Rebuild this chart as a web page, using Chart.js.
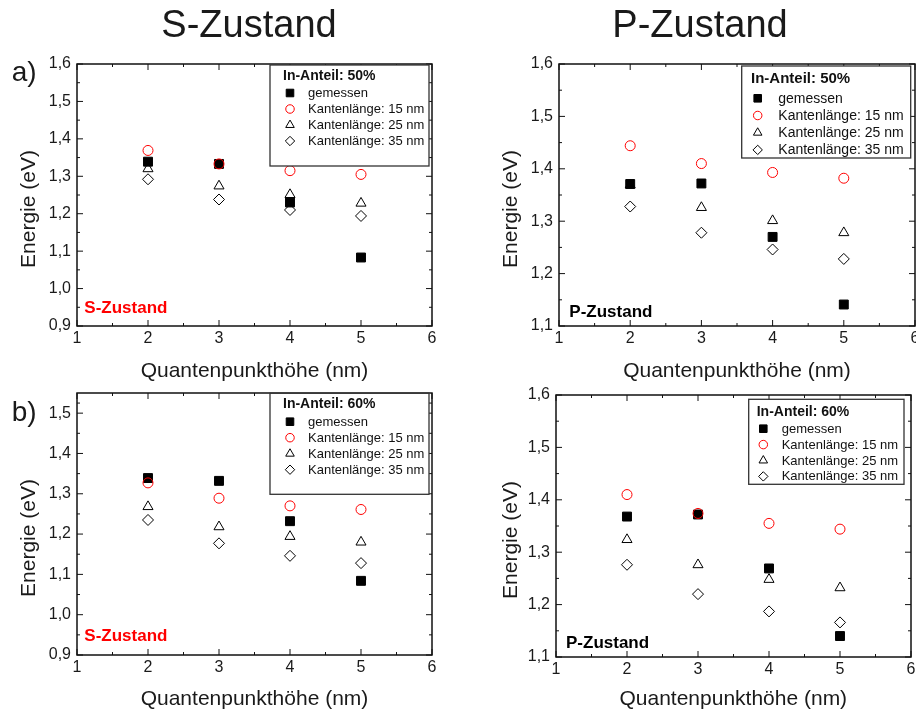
<!DOCTYPE html>
<html>
<head>
<meta charset="utf-8">
<script src="https://cdn.jsdelivr.net/npm/chart.js"></script>
<style>
html, body { margin: 0; padding: 0; background: #fff; overflow: hidden; width: 916px; height: 710px; }
body { position: relative; font-family: "Liberation Sans", Arial, sans-serif; color: #1a1a1a; }
canvas { position: absolute; }
.t { position: absolute; line-height: 1; white-space: nowrap; }
.yt { position: absolute; line-height: 1; white-space: nowrap; font-size: 21px; transform: translate(-50%, -50%) rotate(-90deg); }
.xt { position: absolute; line-height: 1; white-space: nowrap; font-size: 21px; transform: translateX(-50%); }
</style>
</head>
<body>
<canvas id="sa" width="460" height="345" style="left:0;top:40px"></canvas>
<canvas id="pa" width="490" height="345" style="left:460px;top:40px"></canvas>
<canvas id="sb" width="460" height="345" style="left:0;top:370px"></canvas>
<canvas id="pb" width="490" height="345" style="left:460px;top:370px"></canvas>

<div class="t" style="font-size:38px;left:249px;top:5.1px;transform:translateX(-50%)">S-Zustand</div>
<div class="t" style="font-size:38px;left:700px;top:5.1px;transform:translateX(-50%)">P-Zustand</div>
<div class="t" style="font-size:28px;left:11.7px;top:58.3px">a)</div>
<div class="t" style="font-size:28px;left:11.7px;top:398.3px">b)</div>

<div class="xt" style="left:254.5px;top:359.2px">Quantenpunkthöhe (nm)</div>
<div class="xt" style="left:737px;top:359.2px">Quantenpunkthöhe (nm)</div>
<div class="xt" style="left:254.5px;top:687.2px">Quantenpunkthöhe (nm)</div>
<div class="xt" style="left:733.3px;top:687.2px">Quantenpunkthöhe (nm)</div>

<div class="yt" style="left:26.5px;top:209px">Energie (eV)</div>
<div class="yt" style="left:509px;top:209px">Energie (eV)</div>
<div class="yt" style="left:26.5px;top:538px">Energie (eV)</div>
<div class="yt" style="left:509px;top:540px">Energie (eV)</div>

<div class="t" style="font-size:17px;font-weight:bold;color:#ff0000;left:84.3px;top:298.6px">S-Zustand</div>
<div class="t" style="font-size:17px;font-weight:bold;color:#000;left:569.3px;top:302.6px">P-Zustand</div>
<div class="t" style="font-size:17px;font-weight:bold;color:#ff0000;left:84.3px;top:626.6px">S-Zustand</div>
<div class="t" style="font-size:17px;font-weight:bold;color:#000;left:566px;top:633.6px">P-Zustand</div>

<script>
// Quantenpunkthöhe (nm)
const hoehe = [2, 3, 4, 5];
const serien = ['gemessen', 'Kantenlänge: 15 nm', 'Kantenlänge: 25 nm', 'Kantenlänge: 35 nm'];

// a) In-Anteil 50 %, S-Zustand
const s50Gemessen = [1.339, 1.333, 1.230, 1.083];
const s50K15 = [1.369, 1.333, 1.315, 1.305];
const s50K25 = [1.320, 1.274, 1.251, 1.228];
const s50K35 = [1.292, 1.238, 1.210, 1.194];

// a) In-Anteil 50 %, P-Zustand
const p50Gemessen = [1.371, 1.372, 1.270, 1.141];
const p50K15 = [1.444, 1.410, 1.393, 1.382];
const p50K25 = [1.369, 1.326, 1.301, 1.278];
const p50K35 = [1.328, 1.278, 1.246, 1.228];

// b) In-Anteil 60 %, S-Zustand
const s60Gemessen = [1.339, 1.332, 1.232, 1.084];
const s60K15 = [1.327, 1.289, 1.270, 1.261];
const s60K25 = [1.268, 1.218, 1.194, 1.180];
const s60K35 = [1.235, 1.177, 1.146, 1.128];

// b) In-Anteil 60 %, P-Zustand
const p60Gemessen = [1.368, 1.372, 1.269, 1.140];
const p60K15 = [1.410, 1.374, 1.355, 1.344];
const p60K25 = [1.324, 1.276, 1.248, 1.232];
const p60K35 = [1.276, 1.220, 1.187, 1.166];

const xBereich = [1, 6];
const schrift = '"Liberation Sans", Arial, sans-serif';

// marker styles, one per series
const stile = [
  { pointStyle: 'rect', radius: 6.3, fill: '#000', stroke: '#000' },
  { pointStyle: 'circle', radius: 5, fill: 'rgba(0,0,0,0)', stroke: '#ff0000' },
  { pointStyle: 'triangle', radius: 5.8, fill: 'rgba(0,0,0,0)', stroke: '#000' },
  { pointStyle: 'rectRot', radius: 5.5, fill: 'rgba(0,0,0,0)', stroke: '#000' }
];

function marker(ctx, st, r, x, y) {
  ctx.save();
  ctx.fillStyle = st.fill;
  ctx.strokeStyle = st.stroke;
  ctx.lineWidth = 1;
  ctx.beginPath();
  if (st.pointStyle === 'rect') {
    const s = Math.SQRT1_2 * r;
    ctx.rect(x - s, y - s, 2 * s, 2 * s);
  } else if (st.pointStyle === 'circle') {
    ctx.arc(x, y, r, 0, Math.PI * 2);
  } else if (st.pointStyle === 'triangle') {
    ctx.moveTo(x, y - r);
    ctx.lineTo(x + Math.sin(2 * Math.PI / 3) * r, y + r / 2);
    ctx.lineTo(x - Math.sin(2 * Math.PI / 3) * r, y + r / 2);
    ctx.closePath();
  } else {
    ctx.moveTo(x - r, y);
    ctx.lineTo(x, y - r);
    ctx.lineTo(x + r, y);
    ctx.lineTo(x, y + r);
    ctx.closePath();
  }
  ctx.fill();
  ctx.stroke();
  ctx.restore();
}

// frame with inward ticks on all four sides
const rahmen = {
  id: 'rahmen',
  beforeDatasetsDraw(chart) {
    const { ctx, chartArea: a, scales } = chart;
    ctx.save();
    ctx.strokeStyle = '#111';
    ctx.lineWidth = 1;
    ctx.beginPath();
    const xt = scales.x.ticks, yt = scales.y.ticks;
    xt.forEach((t, i) => {
      const p = scales.x.getPixelForValue(t.value);
      ctx.moveTo(p, a.bottom); ctx.lineTo(p, a.bottom - 6);
      ctx.moveTo(p, a.top); ctx.lineTo(p, a.top + 6);
      if (i < xt.length - 1) {
        const m = scales.x.getPixelForValue((t.value + xt[i + 1].value) / 2);
        ctx.moveTo(m, a.bottom); ctx.lineTo(m, a.bottom - 3);
        ctx.moveTo(m, a.top); ctx.lineTo(m, a.top + 3);
      }
    });
    yt.forEach((t, i) => {
      const p = scales.y.getPixelForValue(t.value);
      ctx.moveTo(a.left, p); ctx.lineTo(a.left + 6, p);
      ctx.moveTo(a.right, p); ctx.lineTo(a.right - 6, p);
      const next = i < yt.length - 1 ? yt[i + 1].value : scales.y.max;
      if (next > t.value + 1e-9) {
        const m = scales.y.getPixelForValue((t.value + next) / 2);
        ctx.moveTo(a.left, m); ctx.lineTo(a.left + 3, m);
        ctx.moveTo(a.right, m); ctx.lineTo(a.right - 3, m);
      }
    });
    ctx.stroke();
    ctx.lineWidth = 1.5;
    ctx.strokeRect(a.left, a.top, a.right - a.left, a.bottom - a.top);
    ctx.restore();
  }
};

// boxed legend inside the plot
const legende = {
  id: 'legende',
  afterDraw(chart, args, o) {
    const ctx = chart.ctx;
    ctx.save();
    ctx.fillStyle = '#fff';
    ctx.fillRect(o.x, o.y, o.w, o.h);
    ctx.strokeStyle = '#333';
    ctx.lineWidth = 1.3;
    ctx.strokeRect(o.x, o.y, o.w, o.h);
    ctx.textBaseline = 'middle';
    ctx.fillStyle = '#111';
    ctx.font = 'bold ' + o.tfs + 'px ' + schrift;
    ctx.fillText(o.titel, o.tx, o.ty);
    ctx.font = o.fs + 'px ' + schrift;
    chart.data.datasets.forEach((ds, i) => {
      const y = o.r0 + i * o.dy;
      marker(ctx, stile[i], stile[i].radius * 0.85, o.mx, y);
      ctx.fillStyle = '#111';
      ctx.fillText(ds.label, o.lx, y + 0.5);
    });
    ctx.restore();
  }
};

function komma(v) { return v.toFixed(1).replace('.', ','); }

function panel(id, werte, yMin, yMax, geo, leg) {
  const datasets = werte.map((w, i) => ({
    label: serien[i],
    data: hoehe.map((x, k) => ({ x: x, y: w[k] })),
    pointStyle: stile[i].pointStyle,
    pointRadius: stile[i].radius,
    pointHoverRadius: stile[i].radius,
    backgroundColor: stile[i].fill,
    borderColor: stile[i].stroke,
    borderWidth: 1,
    order: 4 - i
  }));
  new Chart(document.getElementById(id), {
    type: 'scatter',
    data: { datasets: datasets },
    options: {
      responsive: false,
      animation: false,
      layout: { padding: { top: geo.top, right: geo.right, left: 0, bottom: 0 } },
      plugins: { legend: { display: false }, tooltip: { enabled: false }, legende: leg },
      scales: {
        x: {
          type: 'linear', min: xBereich[0], max: xBereich[1],
          ticks: { stepSize: 1, padding: 3, color: '#1a1a1a', font: { family: schrift, size: 16 } },
          grid: { display: false, drawTicks: false },
          border: { display: false },
          afterFit: s => { s.height = geo.xh; }
        },
        y: {
          type: 'linear', min: yMin, max: yMax,
          ticks: { stepSize: 0.1, includeBounds: false, padding: 6, color: '#1a1a1a',
                   font: { family: schrift, size: 16 }, callback: v => komma(v) },
          grid: { display: false, drawTicks: false },
          border: { display: false },
          afterFit: s => { s.width = geo.yw; }
        }
      }
    },
    plugins: [rahmen, legende]
  });
}

panel('sa', [s50Gemessen, s50K15, s50K25, s50K35], 0.9, 1.6,
  { top: 24, right: 28, yw: 77, xh: 59 },
  { titel: 'In-Anteil: 50%', x: 270, y: 25, w: 159, h: 101, tx: 283, ty: 36, tfs: 14,
    mx: 290, lx: 308, r0: 53, dy: 16, fs: 13 });

panel('pa', [p50Gemessen, p50K15, p50K25, p50K35], 1.1, 1.6,
  { top: 24, right: 35, yw: 99, xh: 59 },
  { titel: 'In-Anteil: 50%', x: 281.7, y: 26, w: 169, h: 92, tx: 291, ty: 39, tfs: 15,
    mx: 297.7, lx: 318.3, r0: 58.3, dy: 17.2, fs: 14 });

panel('sb', [s60Gemessen, s60K15, s60K25, s60K35], 0.9, 1.55,
  { top: 23, right: 28, yw: 77, xh: 60 },
  { titel: 'In-Anteil: 60%', x: 270, y: 23.3, w: 159, h: 101, tx: 283, ty: 34.3, tfs: 14,
    mx: 290, lx: 308, r0: 51.7, dy: 16, fs: 13 });

panel('pb', [p60Gemessen, p60K15, p60K25, p60K35], 1.1, 1.6,
  { top: 25, right: 39, yw: 96, xh: 58 },
  { titel: 'In-Anteil: 60%', x: 288.7, y: 29.3, w: 155.3, h: 85, tx: 296.7, ty: 41.7, tfs: 14,
    mx: 303.3, lx: 321.7, r0: 58.7, dy: 15.9, fs: 13 });
</script>
</body>
</html>
